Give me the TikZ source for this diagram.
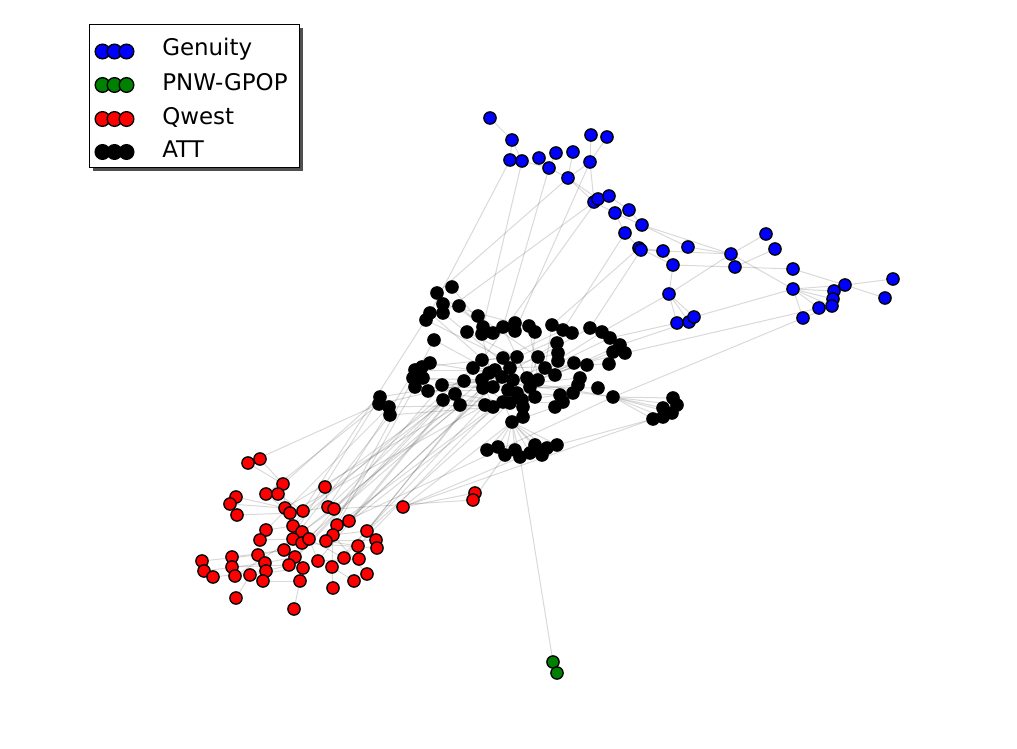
\documentclass[tikz,border=0pt]{standalone}
\usepackage{fontspec}
\setmainfont{DejaVu Sans}
\usetikzlibrary{backgrounds}
\definecolor{nblue}{RGB}{0,0,255}
\definecolor{ngreen}{RGB}{0,128,0}
\definecolor{nred}{RGB}{255,0,0}
\definecolor{nshadow}{RGB}{60,60,60}
\begin{document}
\begin{tikzpicture}[x=0.75pt,y=-0.75pt,
  gn/.style={circle,draw=black,line width=1pt,inner sep=0pt,minimum size=9.2pt},
  lgn/.style={circle,draw=black,line width=1pt,inner sep=0pt,minimum size=11pt},
  edge/.style={draw=black,opacity=0.15,line width=0.75pt},
  lgtext/.style={anchor=base west,inner sep=0pt,font=\fontsize{17.2}{19}\selectfont}]
\useasboundingbox (0,0) rectangle (1017,749);
% ---- nodes: Genuity
\foreach \n/\x/\y in {b1/490/118,b2/512/140,b3/591/135,b4/607/137,b5/510/160,b6/522/161,b7/539/158,b8/556/153,b9/573/152,b10/549/168,b11/590/162,b12/568/178,b13/594/202,b14/598/199,b15/609/196,b16/615/213,b17/629/210,b18/642/225,b19/625/233,b20/639/248,b21/641/250,b22/663/251,b23/688/247,b24/673/265,b25/669/294,b26/677/323,b27/689/322,b28/694/317,b29/766/234,b30/775/249,b31/731/254,b32/735/267,b33/793/269,b34/793/289,b35/845/285,b36/834/291,b37/833/299,b38/832/306,b39/819/308,b40/803/318,b41/893/279,b42/885/298}
  \node[gn,fill=nblue] (\n) at (\x,\y) {};
% ---- PNW-GPOP
\foreach \n/\x/\y in {g1/553/662,g2/557/673}
  \node[gn,fill=ngreen] (\n) at (\x,\y) {};
% ---- Qwest
\foreach \n/\x/\y in {r1/248/463,r2/260/459,r3/283/484,r4/266/494,r5/278/494,r6/236/497,r7/230/504,r8/237/515,r9/285/508,r10/290/513,r11/303/511,r12/325/487,r13/328/507,r14/334/509,r15/266/530,r16/260/540,r17/293/526,r18/302/532,r19/293/539,r20/302/543,r21/309/539,r22/284/550,r23/295/557,r24/289/565,r25/303/568,r26/318/561,r27/332/567,r28/337/525,r29/333/535,r30/326/541,r31/258/555,r32/265/563,r33/266/571,r34/263/581,r35/250/575,r36/232/557,r37/232/567,r38/235/576,r39/202/561,r40/204/571,r41/213/577,r42/300/581,r43/333/588,r44/236/598,r45/294/609,r46/403/507,r47/475/493,r48/473/500,r49/349/521,r50/367/531,r51/376/540,r52/377/548,r53/358/546,r54/359/559,r55/344/558,r56/367/574,r57/354/581}
  \node[gn,fill=nred] (\n) at (\x,\y) {};
% ---- ATT
\foreach \n/\x/\y in {k1/452/287,k2/437/293,k3/443/304,k4/459/306,k5/430/313,k6/426/320,k7/443/313,k8/478/316,k9/434/340,k10/467/332,k11/483/327,k12/482/334,k13/493/333,k14/503/327,k15/515/323,k16/515/331,k17/529/326,k18/535/332,k19/552/325,k20/563/330,k21/572/333,k22/590/328,k23/602/332,k24/610/338,k25/620/345,k26/613/352,k27/625/353,k28/557/343,k29/558/353,k30/558/361,k31/574/363,k32/587/365,k33/609/364,k34/580/378,k35/578/385,k36/573/393,k37/560/395,k38/563/402,k39/555/407,k40/598/388,k41/613/397,k42/673/398,k43/677/405,k44/663/408,k45/672/413,k46/663/417,k47/653/419,k48/430/363,k49/422/367,k50/415/370,k51/413/378,k52/423/378,k53/415/387,k54/428/391,k55/442/385,k56/443/400,k57/455/394,k58/460/405,k59/464/381,k60/473/368,k61/482/360,k62/380/397,k63/379/404,k64/389/407,k65/390/415,k66/503/358,k67/517/357,k68/538/357,k69/545/368,k70/555/375,k71/495/370,k72/510/368,k73/502/377,k74/513/380,k75/527/378,k76/530/387,k77/538/380,k78/482/380,k79/483/388,k80/493/387,k81/508/390,k82/517/393,k83/522/400,k84/535/397,k85/485/405,k86/493/407,k87/503/402,k88/510/403,k89/523/407,k90/523/417,k91/512/422,k92/489/373,k94/487/450,k95/498/447,k96/505/455,k97/515/450,k98/520/457,k99/530/453,k100/535/445,k101/542/455,k102/547/448,k103/557/445}
  \node[gn,fill=black] (\n) at (\x,\y) {};
% ---- edges
\begin{pgfonlayer}{background}
\foreach \a/\b in {b1/b2,b2/b6,b2/b5,b5/b6,b6/b10,b7/b10,b8/b10,b10/b12,b9/b12,b3/b11,b4/b11,b11/b12,b11/b13,b12/b13,b12/b14,b14/b15,b13/b16,b16/b18,b15/b17,b17/b18,b16/b19,b19/b20,b18/b23,b20/b22,b21/b22,b22/b24,b20/b24,b24/b25,b25/b26,b25/b27,b25/b28,b18/b31,b22/b31,b24/b32,b31/b29,b32/b30,b31/b34,b32/b33,b33/b35,b34/b36,b34/b37,b34/b38,b34/b39,b34/b40,b34/b35,b35/b41,b35/b42,b25/b31,b28/b34,b23/b31,
b5/k5,b6/k11,b12/k2,b11/k16,b13/k7,b20/k19,b21/k22,b25/k23,b26/k24,b38/k41,b39/k27,b14/k61,b19/k20,b10/k14,b27/k25,
k91/k94,k91/k95,k91/k96,k91/k97,k91/k98,k91/k99,k91/k100,k91/k101,k91/k102,k91/k103,
k41/k42,k41/k43,k41/k44,k41/k45,k41/k46,k41/k47,k41/k78,k41/k74,
k50/k71,k51/k78,k53/k80,k62/k73,k63/k78,k64/k85,k65/k86,k49/k66,k55/k74,k48/k92,k52/k79,k54/k81,k56/k87,k57/k88,k58/k86,k59/k73,k60/k72,k61/k67,
k1/k11,k2/k13,k3/k15,k5/k71,k6/k66,k9/k73,k10/k67,k4/k11,k7/k72,k8/k68,k12/k80,k14/k75,k17/k77,k18/k76,k19/k69,
k22/k68,k23/k69,k24/k75,k25/k70,k26/k77,k27/k74,k21/k67,k20/k66,k33/k72,k31/k77,k32/k75,k40/k76,k36/k83,k35/k81,k37/k82,k38/k87,k28/k73,k29/k71,k30/k80,k34/k79,k39/k91,
k66/k72,k67/k75,k71/k80,k73/k81,k74/k82,k76/k84,k78/k86,k79/k88,k83/k90,k89/k91,k87/k91,k92/k84,k68/k83,
g1/k98,g1/g2,k103/k47,
r12/k56,r13/k59,r14/k78,r11/k57,r9/k58,r10/k85,r17/k60,r18/k79,r28/k86,r29/k87,r49/k73,r50/k88,r3/k62,r4/k63,r15/k64,r19/k65,r21/k55,r30/k80,r46/k91,r46/k99,r48/k96,r46/r47,r14/r48,r46/k47,r28/k41,
r20/k58,r23/k56,r26/k57,r22/k62,r24/k59,r27/k85,r53/k86,r55/k79,r30/k9,r17/k5,r13/k50,r28/k53,r49/k61,r50/k71,r1/k63,
r1/r3,r2/r3,r6/r9,r7/r9,r8/r10,r3/r9,r4/r10,r5/r11,r12/r13,r15/r17,r16/r19,r31/r22,r32/r23,r33/r24,r34/r42,r35/r25,r36/r22,r37/r24,r38/r19,r39/r31,r40/r32,r41/r33,r44/r35,r45/r42,r42/r25,r43/r27,r26/r21,r27/r29,r49/r28,r50/r29,r51/r30,r52/r20,r53/r30,r54/r26,r55/r21,r56/r29,r57/r27,r20/r17,r18/r14,r11/r13,r9/r17,r10/r18}
  \draw[edge] (\a) -- (\b);
\end{pgfonlayer}
% ---- legend
\fill[nshadow,opacity=0.9] (93,28) rectangle (303,171);
\node[draw=black,fill=white,line width=0.9pt,inner sep=0pt,minimum width=210*0.75pt,minimum height=143*0.75pt,anchor=north west] (legend) at (89,24) {};
\foreach \r/\c/\y/\t in {1/nblue/51.5/Genuity,2/ngreen/85/PNW-GPOP,3/nred/119/Qwest,4/black/152/ATT}{
  \node[lgn,fill=\c] (lg\r a) at (102.5,\y) {};
  \node[lgn,fill=\c] (lg\r b) at (114.5,\y) {};
  \node[lgn,fill=\c] (lg\r c) at (126.5,\y) {};
}
\node[lgtext] (t1) at (162,56) {Genuity};
\node[lgtext] (t2) at (162,90) {PNW-GPOP};
\node[lgtext] (t3) at (162,124) {Qwest};
\node[lgtext] (t4) at (162,157.5) {ATT};
\end{tikzpicture}
\end{document}
